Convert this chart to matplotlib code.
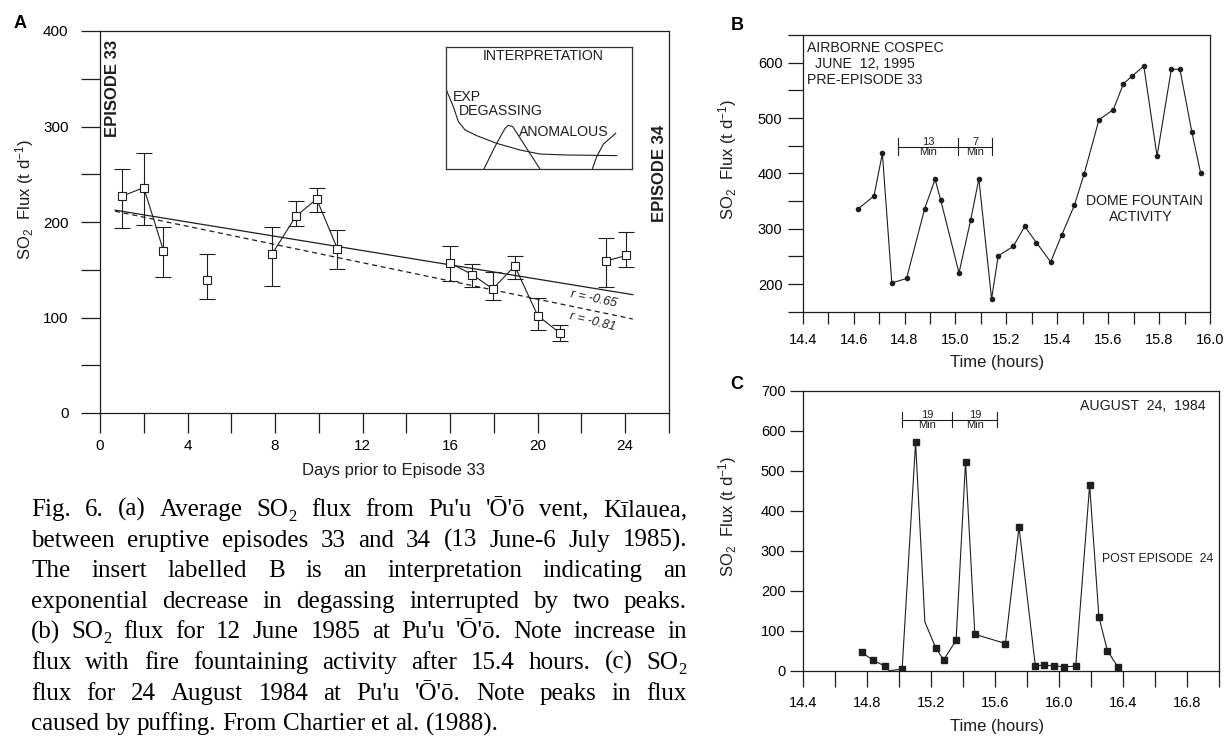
import matplotlib
matplotlib.use("Agg")
import matplotlib.pyplot as plt
import numpy as np
from matplotlib.font_manager import FontProperties

plt.rcParams["font.family"] = ["Liberation Sans", "DejaVu Sans"]
plt.rcParams["mathtext.fontset"] = "custom"
plt.rcParams["mathtext.rm"] = "Liberation Sans"
plt.rcParams["mathtext.it"] = "Liberation Sans:italic"
plt.rcParams["axes.linewidth"] = 0.9

INK = "#1e1e1e"
W, H = 1229, 738

# --- panel A: daily average SO2 flux between episodes 33 and 34
days = [1.0, 2.0, 2.9, 4.9, 7.85, 8.95, 9.9, 10.85, 16.0, 17.0, 17.95, 18.95, 20.0, 21.0, 23.1, 24.05]
flux_avg = [227, 236, 170, 139, 166, 206, 224, 172, 157, 145, 130, 154, 102, 84, 159, 165]
flux_hi = [255, 272, 195, 166, 195, 222, 236, 192, 175, 156, 148, 164, 120, 92, 183, 190]
flux_lo = [194, 197, 142, 119, 133, 196, 210, 151, 138, 132, 118, 140, 87, 75, 132, 153]
run_id = [0, 0, 0, 1, 2, 2, 2, 2, 3, 3, 3, 3, 3, 3, 4, 4]

# fitted trends: (slope, intercept, x from, x to, linestyle, label)
trend_lines = [
    (-3.741, 214.98, 0.69, 24.35, "-", "r = -0.65"),
    (-4.772, 214.6, 0.69, 24.35, (0, (4, 3)), "r = -0.81"),
]
trend_label_pos = [(22.55, 119.5, -12), (22.5, 96.0, -14)]

# interpretation sketch (inset, unit box)
exp_u = [0, 0.041, 0.068, 0.104, 0.166, 0.273, 0.398, 0.505, 0.648, 0.916]
exp_v = [0.663, 0.512, 0.389, 0.321, 0.274, 0.211, 0.156, 0.123, 0.115, 0.11]
peak1_u = [0.205, 0.264, 0.318, 0.336, 0.359, 0.434, 0.505]
peak1_v = [0, 0.184, 0.334, 0.359, 0.348, 0.17, 0]
peak2_u = [0.786, 0.809, 0.845, 0.911]
peak2_v = [0, 0.101, 0.205, 0.293]

# --- panel B: airborne COSPEC, 12 June
time_b = [14.618, 14.68, 14.713, 14.75, 14.808, 14.879, 14.92, 14.942, 15.014, 15.06,
          15.092, 15.142, 15.168, 15.227, 15.272, 15.318, 15.374, 15.417, 15.467, 15.505,
          15.564, 15.62, 15.66, 15.695, 15.74, 15.792, 15.848, 15.882, 15.929, 15.963]
flux_b = [336, 359, 436, 202, 210, 336, 389, 352, 220, 316,
          390, 173, 251, 268, 304, 275, 240, 288, 342, 398,
          497, 515, 562, 576, 594, 431, 588, 588, 474, 401]
bar_b_edges = [14.775, 15.01, 15.145]
bar_b_labels = ["13", "7"]
bar_b_level = 448

# --- panel C: 24 August 1984
time_c = [14.768, 14.84, 14.912, 14.94, 15.021, 15.105, 15.163, 15.23, 15.28, 15.358,
          15.417, 15.475, 15.666, 15.751, 15.853, 15.907, 15.97, 16.032, 16.105, 16.192,
          16.25, 16.303, 16.367]
flux_c = [46, 26, 12, 0, 4, 571, 122, 58, 27, 76,
          522, 91, 68, 359, 12, 14, 12, 10, 11, 464,
          134, 50, 10]
marked_c = [True, True, True, False, True, True, False, True, True, True,
            True, True, True, True, True, True, True, True, True, True,
            True, True, True]
bar_c_edges = [15.02, 15.335, 15.615]
bar_c_labels = ["19", "19"]
bar_c_level = 628

caption_lines = [
    "Fig. 6. (a) Average SO₂ flux from Pu'u 'Ō'ō vent, Kīlauea,",
    "between eruptive episodes 33 and 34 (13 June-6 July 1985).",
    "The insert labelled B is an interpretation indicating an",
    "exponential decrease in degassing interrupted by two peaks.",
    "(b) SO₂ flux for 12 June 1985 at Pu'u 'Ō'ō. Note increase in",
    "flux with fire fountaining activity after 15.4 hours. (c) SO₂",
    "flux for 24 August 1984 at Pu'u 'Ō'ō. Note peaks in flux",
    "caused by puffing. From Chartier et al. (1988).",
]

ylabel_text = "SO$_2$  Flux (t d$^{-1}$)"


def px_box(left, top, right, bottom):
    return [left / W, 1 - bottom / H, (right - left) / W, (bottom - top) / H]


def style_axes(ax, xlen, ylen, xpad, ypad, size):
    for sp in ax.spines.values():
        sp.set_color(INK)
        sp.set_linewidth(0.9)
    ax.tick_params(axis="x", which="both", direction="out", length=xlen, width=0.9,
                   color=INK, pad=xpad, labelsize=size, top=False)
    ax.tick_params(axis="y", which="both", direction="out", length=ylen, width=0.9,
                   color=INK, pad=ypad, labelsize=size, right=False)


def draw_bar(ax, edges, labels, level, half):
    ax.plot([edges[0], edges[-1]], [level, level], color=INK, lw=0.8)
    for e in edges:
        ax.plot([e, e], [level - half, level + half], color=INK, lw=0.8)
    for a, b, lab in zip(edges[:-1], edges[1:], labels):
        mid = (a + b) / 2
        ax.annotate(lab, (mid, level), xytext=(0, -0.5), textcoords="offset points",
                    ha="center", va="bottom", fontsize=8, color=INK)
        ax.annotate("Min", (mid, level), xytext=(0, -0.5), textcoords="offset points",
                    ha="center", va="top", fontsize=8, color=INK)


fig = plt.figure(figsize=(W / 100, H / 100), dpi=100)

# ---------------- panel A
ax_a = fig.add_axes(px_box(100, 31, 669, 413))
ax_a.set_xlim(0, 26)
ax_a.set_ylim(0, 400)
xt = np.arange(0, 27, 2)
ax_a.set_xticks(xt, [str(v) if v % 4 == 0 and v <= 24 else "" for v in xt])
yt = np.arange(0, 401, 50)
ax_a.set_yticks(yt, [str(v) if v % 100 == 0 else "" for v in yt])
style_axes(ax_a, 14.4, 13.7, 4, 9, 11)

err = [np.array(flux_avg) - np.array(flux_lo), np.array(flux_hi) - np.array(flux_avg)]
ax_a.errorbar(days, flux_avg, yerr=err, fmt="none", ecolor=INK, elinewidth=0.8,
              capsize=5.5, capthick=0.8, zorder=2)
runs = np.array(run_id)
for r in np.unique(runs):
    sel = runs == r
    ax_a.plot(np.array(days)[sel], np.array(flux_avg)[sel], color=INK, lw=0.8, zorder=2)
ax_a.plot(days, flux_avg, "s", mfc="white", mec=INK, ms=6, mew=0.8, zorder=3)

for (slope, icpt, x0, x1, ls, lab), (lx, ly, rot) in zip(trend_lines, trend_label_pos):
    xx = np.array([x0, x1])
    ax_a.plot(xx, icpt + slope * xx, color=INK, lw=0.9, linestyle=ls, zorder=1)
    ax_a.text(lx, ly, lab, rotation=rot, fontsize=9, style="italic", ha="center",
              va="center", color=INK)

ax_a.text(0.0228, 0.976, "EPISODE 33", transform=ax_a.transAxes, rotation=90,
          ha="center", va="top", fontsize=12, fontweight="bold", color=INK)
ax_a.text(0.984, 0.5, "EPISODE 34", transform=ax_a.transAxes, rotation=90,
          ha="center", va="bottom", fontsize=12, fontweight="bold", color=INK)

ax_in = fig.add_axes(px_box(445.7, 47.3, 632.3, 169))
ax_in.set_xlim(0, 1)
ax_in.set_ylim(0, 1)
ax_in.set_xticks([])
ax_in.set_yticks([])
for sp in ax_in.spines.values():
    sp.set_color("#333333")
    sp.set_linewidth(0.9)
for uu, vv in [(exp_u, exp_v), (peak1_u, peak1_v), (peak2_u, peak2_v)]:
    ax_in.plot(uu, vv, color=INK, lw=0.8)
ax_in.text(0.521, 0.928, "INTERPRETATION", ha="center", va="center", fontsize=10.2, color=INK)
ax_in.text(0.041, 0.594, "EXP", ha="left", va="center", fontsize=10.2, color=INK)
ax_in.text(0.073, 0.477, "DEGASSING", ha="left", va="center", fontsize=10.2, color=INK)
ax_in.text(0.394, 0.30, "ANOMALOUS", ha="left", va="center", fontsize=10.2, color=INK)

fig.text(394 / W, 1 - 471 / H, "Days prior to Episode 33", ha="center", va="center",
         fontsize=12, color=INK)
fig.text(25 / W, 1 - 200 / H, ylabel_text, rotation=90, ha="center", va="center",
         fontsize=12, color=INK)

# ---------------- panel B
ax_b = fig.add_axes(px_box(802.7, 35, 1210, 311.7))
ax_b.set_xlim(14.4, 16.0)
ax_b.set_ylim(150, 650)
xt_b = np.round(np.arange(14.4, 16.001, 0.1), 1)
ax_b.set_xticks(xt_b, [f"{v:.1f}" if round(v * 10) % 2 == 0 else "" for v in xt_b])
yt_b = np.arange(150, 651, 50)
ax_b.set_yticks(yt_b, [str(v) if v % 100 == 0 else "" for v in yt_b])
style_axes(ax_b, 8.6, 10.8, 6.5, 3.8, 10.5)
ax_b.plot(time_b, flux_b, color=INK, lw=0.8, marker="o", ms=3, mfc=INK, mec=INK)
draw_bar(ax_b, bar_b_edges, bar_b_labels, bar_b_level, 15)

ax_b.text(0.0113, 0.952, "AIRBORNE COSPEC", transform=ax_b.transAxes, ha="left",
          va="center", fontsize=10.2, color=INK)
ax_b.text(0.030, 0.895, "JUNE  12, 1995", transform=ax_b.transAxes, ha="left",
          va="center", fontsize=10.2, color=INK)
ax_b.text(0.0113, 0.838, "PRE-EPISODE 33", transform=ax_b.transAxes, ha="left",
          va="center", fontsize=10.2, color=INK)
ax_b.text(0.840, 0.399, "DOME FOUNTAIN", transform=ax_b.transAxes, ha="center",
          va="center", fontsize=10.2, color=INK)
ax_b.text(0.830, 0.343, "ACTIVITY", transform=ax_b.transAxes, ha="center",
          va="center", fontsize=10.2, color=INK)

fig.text(997 / W, 1 - 362 / H, "Time (hours)", ha="center", va="center", fontsize=12, color=INK)
fig.text(728 / W, 1 - 160 / H, ylabel_text, rotation=90, ha="center", va="center",
         fontsize=12, color=INK)

# ---------------- panel C
ax_c = fig.add_axes(px_box(802.7, 390.7, 1219, 670.7))
ax_c.set_xlim(14.4, 17.0)
ax_c.set_ylim(0, 700)
xt_c = np.round(np.arange(14.4, 17.001, 0.2), 1)
ax_c.set_xticks(xt_c, [f"{v:.1f}" if round(v * 10) % 4 == 0 and v < 16.9 else "" for v in xt_c])
ax_c.set_yticks(np.arange(0, 701, 100))
style_axes(ax_c, 11.5, 9.4, 6.5, 3, 10.5)
ax_c.plot(time_c, flux_c, color=INK, lw=0.8, marker="s", ms=5, mfc=INK, mec=INK,
          markevery=marked_c)
draw_bar(ax_c, bar_c_edges, bar_c_labels, bar_c_level, 19)

ax_c.text(0.968, 0.945, "AUGUST  24,  1984", transform=ax_c.transAxes, ha="right",
          va="center", fontsize=10.2, color=INK)
ax_c.text(0.718, 0.399, "POST EPISODE  24", transform=ax_c.transAxes, ha="left",
          va="center", fontsize=8.8, color=INK)

fig.text(997 / W, 1 - 726 / H, "Time (hours)", ha="center", va="center", fontsize=12, color=INK)
fig.text(728 / W, 1 - 517 / H, ylabel_text, rotation=90, ha="center", va="center",
         fontsize=12, color=INK)

# panel letters
for lx, ly, letter in [(20, 23, "A"), (737, 25, "B"), (737, 384, "C")]:
    fig.text(lx / W, 1 - ly / H, letter, ha="center", va="center", fontsize=13,
             fontweight="bold", color="black")

# ---------------- caption, justified line by line
cap_font = FontProperties(family="Liberation Serif", size=18)
sub_font = FontProperties(family="Liberation Serif", size=12)
renderer = fig.canvas.get_renderer()
cap_left, cap_right = 31, 687
cap_base0, cap_step = 516, 30.6


def text_width(s, fp):
    w, _, _ = renderer.get_text_width_height_descent(s, fp, ismath=False)
    return w


def word_pieces(word):
    pieces = []
    chunks = word.split("₂")
    for i, chunk in enumerate(chunks):
        if chunk:
            pieces.append((chunk, False))
        if i < len(chunks) - 1:
            pieces.append(("2", True))
    return pieces


space_w = text_width("a a", cap_font) - text_width("aa", cap_font)
for i, line in enumerate(caption_lines):
    words = line.split()
    widths = [sum(text_width(t, sub_font if s else cap_font) for t, s in word_pieces(w))
              for w in words]
    if i < len(caption_lines) - 1:
        gap = (cap_right - cap_left - sum(widths)) / (len(words) - 1)
    else:
        gap = space_w
    y = 1 - (cap_base0 + i * cap_step) / H
    x = cap_left
    for w in words:
        for t, s in word_pieces(w):
            fp = sub_font if s else cap_font
            fig.text(x / W, y - (5 / H if s else 0), t, fontproperties=fp,
                     ha="left", va="baseline", color="black")
            x += text_width(t, fp)
        x += gap

fig.savefig("out.png", dpi=100, facecolor="white")
